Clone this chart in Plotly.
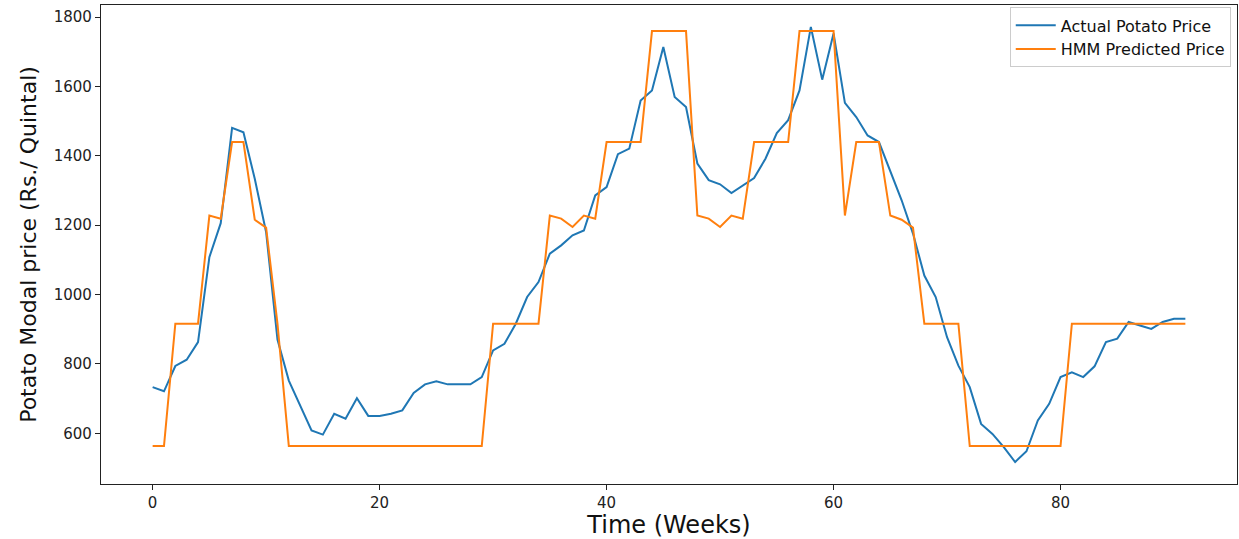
import plotly.graph_objects as go

weeks = list(range(92))

actual_price = [
    733, 721, 794, 812, 863, 1108, 1206, 1481, 1468, 1334,
    1180, 870, 752, 680, 608, 596, 656, 642, 701, 650,
    650, 656, 666, 716, 741, 750, 741, 741, 741, 762,
    839, 858, 916, 993, 1036, 1118, 1142, 1171, 1185, 1286,
    1310, 1405, 1421, 1560, 1589, 1714, 1570, 1541, 1378, 1330,
    1318, 1293, 1315, 1336, 1392, 1466, 1503, 1589, 1772, 1620,
    1753, 1553, 1512, 1459, 1440, 1354, 1272, 1176, 1055, 993,
    877, 795, 733, 627, 598, 560, 517, 548, 637, 685,
    762, 776, 762, 793, 863, 873, 921, 911, 901, 921,
    930, 930,
]

hmm_price = [
    563, 563, 916, 916, 916, 1228, 1219, 1440, 1440, 1216,
    1193, 916, 563, 563, 563, 563, 563, 563, 563, 563,
    563, 563, 563, 563, 563, 563, 563, 563, 563, 563,
    916, 916, 916, 916, 916, 1228, 1219, 1195, 1228, 1219,
    1440, 1440, 1440, 1440, 1760, 1760, 1760, 1760, 1228, 1219,
    1195, 1228, 1219, 1440, 1440, 1440, 1440, 1760, 1760, 1760,
    1760, 1228, 1440, 1440, 1440, 1228, 1216, 1193, 916, 916,
    916, 916, 563, 563, 563, 563, 563, 563, 563, 563,
    563, 916, 916, 916, 916, 916, 916, 916, 916, 916,
    916, 916,
]

x_ticks = [0, 20, 40, 60, 80]
y_ticks = [600, 800, 1000, 1200, 1400, 1600, 1800]

FONT = "DejaVu Sans"

fig = go.Figure()
fig.add_trace(go.Scatter(x=weeks, y=actual_price, mode="lines",
                         name="Actual Potato Price",
                         line=dict(color="#1f77b4", width=2)))
fig.add_trace(go.Scatter(x=weeks, y=hmm_price, mode="lines",
                         name="HMM Predicted Price",
                         line=dict(color="#ff7f0e", width=2)))

axis_common = dict(showline=True, linecolor="#222222", linewidth=1.3, mirror=True,
                   showgrid=False, zeroline=False, ticks="outside", ticklen=5,
                   tickwidth=1.2, tickcolor="#222222",
                   tickfont=dict(family=FONT, size=15, color="#222222"))

fig.update_layout(
    width=1239, height=539,
    paper_bgcolor="white", plot_bgcolor="white",
    margin=dict(l=101, r=2, t=5, b=55),
    font=dict(family=FONT, color="#111111"),
    xaxis=dict(range=[-4.55, 95.55], tickvals=x_ticks,
               title=dict(text="Time (Weeks)", font=dict(family=FONT, size=24), standoff=6),
               **axis_common),
    yaxis=dict(range=[453.6, 1835.3], tickvals=y_ticks,
               title=dict(text="Potato Modal price (Rs./ Quintal)", font=dict(family=FONT, size=22), standoff=10),
               **axis_common),
    legend=dict(x=0.9945, y=0.995, xanchor="right", yanchor="top",
                bgcolor="rgba(255,255,255,0.8)", bordercolor="#cccccc", borderwidth=1,
                font=dict(family=FONT, size=16, color="#111111"),
                tracegroupgap=0, itemwidth=40),
    showlegend=True,
)

fig.write_html("out.html")
